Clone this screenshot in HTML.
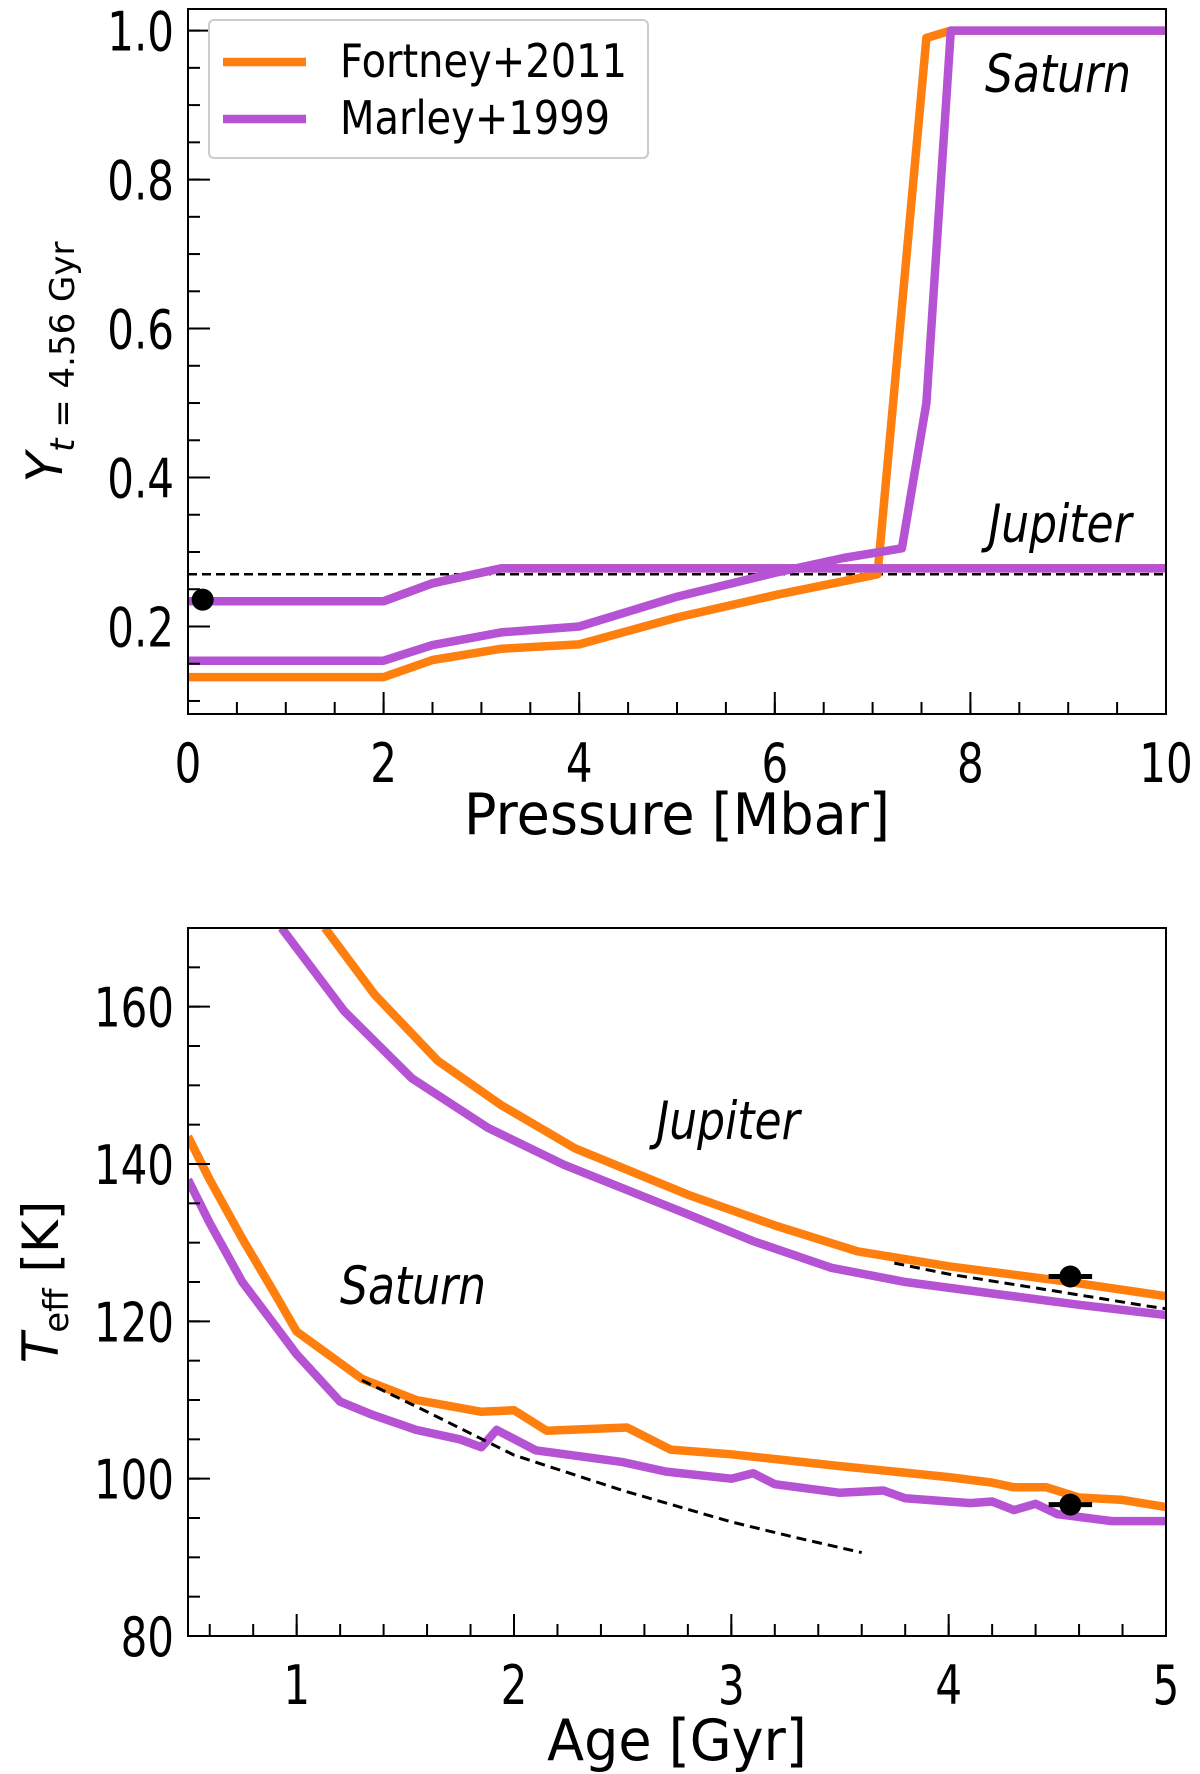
<!DOCTYPE html>
<html><head><meta charset="utf-8"><style>
html,body{margin:0;padding:0;background:#fff;}
svg{display:block;font-family:"DejaVu Sans","Liberation Sans",sans-serif;}
</style></head><body>
<svg id="fig" width="1200" height="1774" viewBox="0 0 1200 1774" xmlns="http://www.w3.org/2000/svg"></svg>
<script>
// ---- Top panel data (Pressure [Mbar], Y) ----
const satFortP = [0, 2, 2.5, 3.2, 4, 5, 6, 7.05, 7.55, 7.8, 10];
const satFortY = [0.132, 0.132, 0.155, 0.17, 0.176, 0.212, 0.242, 0.27, 0.99, 1.0, 1.0];
const satMarlP = [0, 2, 2.5, 3.2, 4, 5, 6, 6.7, 7.3, 7.55, 7.8, 10];
const satMarlY = [0.154, 0.154, 0.175, 0.192, 0.2, 0.24, 0.272, 0.292, 0.305, 0.5, 1.0, 1.0];
const jupFortP = [0, 2, 2.5, 3.2, 10];
const jupFortY = [0.234, 0.234, 0.258, 0.278, 0.278];
const jupMarlP = [0, 2, 2.5, 3.2, 10];
const jupMarlY = [0.234, 0.234, 0.258, 0.278, 0.278];
const protoY = [0.27];
const obsP = [0.15];
const obsY = [0.236];
const topXTicks = [0, 2, 4, 6, 8, 10];
const topYTicks = [0.2, 0.4, 0.6, 0.8, 1.0];

// ---- Bottom panel data (Age [Gyr], Teff [K]) ----
const jupFortA = [1.13, 1.36, 1.65, 1.94, 2.28, 2.8, 3.2, 3.58, 4.0, 4.53, 5];
const jupFortT = [170, 161.5, 153.1, 147.5, 142, 136.1, 132.2, 128.9, 127.0, 125.1, 123.2];
const jupMarlA = [0.93, 1.22, 1.53, 1.88, 2.23, 2.8, 3.1, 3.46, 3.8, 4.24, 4.6, 5];
const jupMarlT = [170, 159.4, 150.9, 144.6, 139.9, 133.6, 130.2, 126.8, 125.0, 123.4, 122.1, 120.8];
const jupDashA = [3.75, 4, 4.5, 4.9, 5];
const jupDashT = [127.4, 126, 123.8, 122, 121.6];
const satFortA = [0.5, 0.6, 0.75, 0.9, 1, 1.3, 1.55, 1.85, 2, 2.15, 2.52, 2.72, 3, 3.5, 4, 4.2, 4.3, 4.45, 4.6, 4.8, 5];
const satFortT = [143.5, 138, 130.5, 123.5, 118.7, 112.7, 110, 108.5, 108.7, 106.1, 106.5, 103.7, 103.1, 101.6, 100.2, 99.5, 98.9, 98.9, 97.6, 97.3, 96.4];
const satMarlA = [0.5, 0.6, 0.75, 0.9, 1, 1.2, 1.35, 1.55, 1.75, 1.85, 1.92, 2.1, 2.5, 2.7, 3, 3.1, 3.2, 3.5, 3.7, 3.8, 4.1, 4.2, 4.3, 4.4, 4.5, 4.75, 5];
const satMarlT = [138, 132.5, 125, 119.5, 115.8, 109.8, 108.1, 106.2, 105, 104, 106.2, 103.6, 102.1, 100.9, 100, 100.7, 99.3, 98.2, 98.5, 97.5, 96.9, 97.1, 96, 96.8, 95.5, 94.6, 94.6];
const satDashA = [1.3, 1.6, 2, 2.5, 3, 3.3, 3.6];
const satDashT = [112.5, 108.5, 103, 98.5, 94.5, 92.5, 90.6];
const obsA = [4.56, 4.56];
const obsT = [125.7, 96.7];
const obsAErr = [0.1, 0.1];
const botXTicks = [1, 2, 3, 4, 5];
const botYTicks = [80, 100, 120, 140, 160];

const NS = "http://www.w3.org/2000/svg";
const svg = document.getElementById('fig');
function mk(tag, attrs, parent) {
  const e = document.createElementNS(NS, tag);
  for (const k in attrs) e.setAttribute(k, attrs[k]);
  (parent || svg).appendChild(e);
  return e;
}
const ORANGE = "#ff7f0e", PURPLE = "#b553d4";
const LW = 8.5;

const axTop = {x0:188, x1:1166, y0:9, y1:714, xmin:0, xmax:10, ymin:0.0825, ymax:1.029};
const axBot = {x0:188, x1:1166, y0:928, y1:1636, xmin:0.5, xmax:5, ymin:80, ymax:170};
function sx(ax, v) { return ax.x0 + (v - ax.xmin) / (ax.xmax - ax.xmin) * (ax.x1 - ax.x0); }
function sy(ax, v) { return ax.y1 - (v - ax.ymin) / (ax.ymax - ax.ymin) * (ax.y1 - ax.y0); }

function clip(ax, id) {
  const d = mk('defs', {});
  const c = mk('clipPath', {id: id}, d);
  mk('rect', {x: ax.x0, y: ax.y0, width: ax.x1 - ax.x0, height: ax.y1 - ax.y0}, c);
}
clip(axTop, 'ctop'); clip(axBot, 'cbot');

function line(ax, xs, ys, color, w, dash, name, cid) {
  const pts = xs.map((x, i) => sx(ax, x).toFixed(1) + ',' + sy(ax, ys[i]).toFixed(1)).join(' ');
  const p = mk('polyline', {points: pts, fill: 'none', stroke: color, 'stroke-width': w, 'stroke-linejoin': 'round', 'clip-path': 'url(#' + cid + ')'});
  if (dash) p.setAttribute('stroke-dasharray', dash);
  
  
  return p;
}

function tickText(g, x, y, txt, anchor, name) {
  const t = mk('text', {transform: 'translate(' + x + ',' + y + ') scale(1,1.3)', 'font-size': 42, 'text-anchor': anchor, fill: '#000'}, g);
  t.textContent = txt;
  
  
}

function axes(ax, xt, yt, xminor, yminor, fmtX, fmtY, name) {
  const g = mk('g', {});
  
  
  for (const v of xminor) {
    const x = sx(ax, v);
    mk('line', {x1: x, x2: x, y1: ax.y1, y2: ax.y1 - 12, stroke: '#000', 'stroke-width': 2}, g);
  }
  for (const v of yminor) {
    const y = sy(ax, v);
    mk('line', {x1: ax.x0, x2: ax.x0 + 12, y1: y, y2: y, stroke: '#000', 'stroke-width': 2}, g);
  }
  for (const v of xt) {
    const x = sx(ax, v);
    mk('line', {x1: x, x2: x, y1: ax.y1, y2: ax.y1 - 22, stroke: '#000', 'stroke-width': 2}, g);
    tickText(g, x, ax.y1 + 68, fmtX(v), 'middle', 'x-tick-label');
  }
  for (const v of yt) {
    const y = sy(ax, v);
    mk('line', {x1: ax.x0, x2: ax.x0 + 22, y1: y, y2: y, stroke: '#000', 'stroke-width': 2}, g);
    tickText(g, ax.x0 - 14, y + 20, fmtY(v), 'end', 'y-tick-label');
  }
  mk('rect', {x: ax.x0, y: ax.y0, width: ax.x1 - ax.x0, height: ax.y1 - ax.y0, fill: 'none', stroke: '#000', 'stroke-width': 2}, g);
}

// ---- top panel ----
const tXm = []; for (let v = 0.5; v < 10; v += 0.5) tXm.push(v);
const tYm = []; for (let v = 0.1; v < 1.03; v += 0.05) tYm.push(+v.toFixed(2));
line(axTop, [0, 10], [protoY[0], protoY[0]], '#000', 2.5, '9,5', 'protosolar-helium-line', 'ctop');
line(axTop, jupFortP, jupFortY, ORANGE, LW, null, 'jupiter-fortney-line', 'ctop');
line(axTop, satFortP, satFortY, ORANGE, LW, null, 'saturn-fortney-line', 'ctop');
line(axTop, jupMarlP, jupMarlY, PURPLE, LW, null, 'jupiter-marley-line', 'ctop');
line(axTop, satMarlP, satMarlY, PURPLE, LW, null, 'saturn-marley-line', 'ctop');
{
  const c = mk('circle', {cx: sx(axTop, obsP[0]), cy: sy(axTop, obsY[0]), r: 11, fill: '#000'});
  
  
}
axes(axTop, topXTicks, topYTicks, tXm, tYm, v => String(v), v => v.toFixed(1), 'top');

// legend
{
  const g = mk('g', {});
  
  
  mk('rect', {x: 209, y: 20, width: 439, height: 138, rx: 5, fill: '#fff', stroke: '#ccc', 'stroke-width': 2}, g);
  const items = [['Fortney+2011', ORANGE, 62], ['Marley+1999', PURPLE, 119]];
  for (const [lbl, col, y] of items) {
    const e = mk('g', {}, g);
    
    
    mk('line', {x1: 223, x2: 306, y1: y, y2: y, stroke: col, 'stroke-width': LW}, e);
    const t = mk('text', {transform: 'translate(340,' + (y + 15) + ') scale(1,1.15)', 'font-size': 40, fill: '#000'}, e);
    t.textContent = lbl;
  }
}
function label(x, y, txt, name, size, italic, sy2) {
  const t = mk('text', {transform: 'translate(' + x + ',' + y + ') scale(1,' + (sy2 || 1) + ')', 'font-size': size, 'text-anchor': 'middle', fill: '#000'});
  if (italic) t.setAttribute('font-style', 'italic');
  t.textContent = txt;
  
  
  return t;
}
label(1058, 92, 'Saturn', 'saturn-label-top', 44, true, 1.2);
label(1060, 542, 'Jupiter', 'jupiter-label-top', 44, true, 1.2);
label(677, 834, 'Pressure [Mbar]', 'x-axis-title-top', 54, false, 1.05);
{
  const t = mk('text', {transform: 'translate(62,362) rotate(-90)', 'font-size': 50, 'text-anchor': 'middle', fill: '#000'});
  
  
  t.innerHTML = '<tspan font-style="italic">Y</tspan><tspan font-size="34" dy="12" font-style="italic">t</tspan><tspan font-size="34"> = 4.56 Gyr</tspan>';
}

// ---- bottom panel ----
const bXm = []; for (let v = 0.6; v < 5; v += 0.2) bXm.push(+v.toFixed(1));
const bYm = []; for (let v = 85; v < 170; v += 5) bYm.push(v);
line(axBot, jupFortA, jupFortT, ORANGE, LW, null, 'jupiter-fortney-cooling', 'cbot');
line(axBot, satFortA, satFortT, ORANGE, LW, null, 'saturn-fortney-cooling', 'cbot');
line(axBot, jupMarlA, jupMarlT, PURPLE, LW, null, 'jupiter-marley-cooling', 'cbot');
line(axBot, satMarlA, satMarlT, PURPLE, LW, null, 'saturn-marley-cooling', 'cbot');
line(axBot, jupDashA, jupDashT, '#000', 3, '10,6', 'jupiter-homogeneous-cooling', 'cbot');
line(axBot, satDashA, satDashT, '#000', 3, '10,6', 'saturn-homogeneous-cooling', 'cbot');
for (let i = 0; i < obsA.length; i++) {
  const g = mk('g', {});
  
  
  const y = sy(axBot, obsT[i]);
  mk('line', {x1: sx(axBot, obsA[i] - obsAErr[i]), x2: sx(axBot, obsA[i] + obsAErr[i]), y1: y, y2: y, stroke: '#000', 'stroke-width': 5}, g);
  mk('circle', {cx: sx(axBot, obsA[i]), cy: y, r: 11, fill: '#000'}, g);
}
axes(axBot, botXTicks, botYTicks, bXm, bYm, v => String(v), v => String(v), 'bottom');
label(728, 1139, 'Jupiter', 'jupiter-label-bottom', 44, true, 1.2);
label(413, 1304, 'Saturn', 'saturn-label-bottom', 44, true, 1.2);
label(677, 1760, 'Age [Gyr]', 'x-axis-title-bottom', 54, false, 1.05);
{
  const t = mk('text', {transform: 'translate(58,1282) rotate(-90)', 'font-size': 50, 'text-anchor': 'middle', fill: '#000'});
  
  
  t.innerHTML = '<tspan font-style="italic">T</tspan><tspan font-size="34" dy="10">eff</tspan><tspan dy="-10"> [K]</tspan>';
}
</script>
</body></html>
